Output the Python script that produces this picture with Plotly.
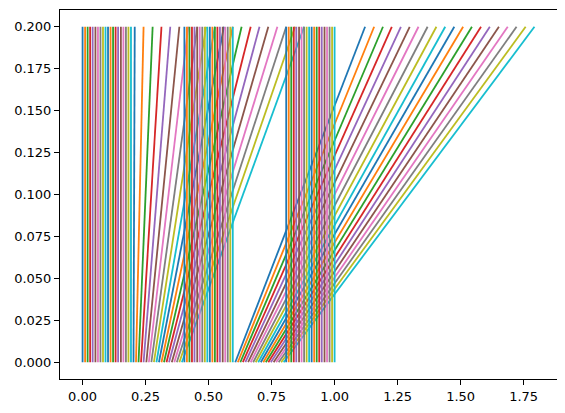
import plotly.graph_objects as go

# x position of each line at t = 0 (bottom) and at t = 0.2 (top)
x_start = [
    0.000, 0.010, 0.020, 0.030, 0.040, 0.051, 0.061, 0.071, 0.081, 0.091,
    0.101, 0.111, 0.121, 0.131, 0.141, 0.152, 0.162, 0.172, 0.182, 0.192,
    0.202, 0.212, 0.222, 0.232, 0.242, 0.253, 0.263, 0.273, 0.283, 0.293,
    0.303, 0.313, 0.323, 0.333, 0.343, 0.354, 0.364, 0.374, 0.384, 0.394,
    0.404, 0.414, 0.424, 0.434, 0.444, 0.455, 0.465, 0.475, 0.485, 0.495,
    0.505, 0.515, 0.525, 0.535, 0.545, 0.556, 0.566, 0.576, 0.586, 0.596,
    0.606, 0.616, 0.626, 0.636, 0.646, 0.657, 0.667, 0.677, 0.687, 0.697,
    0.707, 0.717, 0.727, 0.737, 0.747, 0.758, 0.768, 0.778, 0.788, 0.798,
    0.808, 0.818, 0.828, 0.838, 0.848, 0.859, 0.869, 0.879, 0.889, 0.899,
    0.909, 0.919, 0.929, 0.939, 0.949, 0.960, 0.970, 0.980, 0.990, 1.000,
]
x_end = [
    0.000, 0.010, 0.020, 0.030, 0.040, 0.051, 0.061, 0.071, 0.081, 0.091,
    0.101, 0.111, 0.121, 0.131, 0.141, 0.152, 0.162, 0.172, 0.182, 0.192,
    0.207, 0.242, 0.278, 0.313, 0.348, 0.384, 0.419, 0.455, 0.490, 0.525,
    0.561, 0.596, 0.631, 0.667, 0.702, 0.737, 0.773, 0.808, 0.843, 0.879,
    0.404, 0.414, 0.424, 0.434, 0.444, 0.455, 0.465, 0.475, 0.485, 0.495,
    0.505, 0.515, 0.525, 0.535, 0.545, 0.556, 0.566, 0.576, 0.586, 0.596,
    1.121, 1.157, 1.192, 1.227, 1.263, 1.298, 1.333, 1.369, 1.404, 1.439,
    1.475, 1.510, 1.545, 1.581, 1.616, 1.652, 1.687, 1.722, 1.758, 1.793,
    0.808, 0.818, 0.828, 0.838, 0.848, 0.859, 0.869, 0.879, 0.889, 0.899,
    0.909, 0.919, 0.929, 0.939, 0.949, 0.960, 0.970, 0.980, 0.990, 1.000,
]
t_span = [0.0, 0.2]

x_ticks = [0.0, 0.25, 0.5, 0.75, 1.0, 1.25, 1.5, 1.75]
y_ticks = [0.0, 0.025, 0.05, 0.075, 0.1, 0.125, 0.15, 0.175, 0.2]

tab10 = ['#1f77b4', '#ff7f0e', '#2ca02c', '#d62728', '#9467bd',
         '#8c564b', '#e377c2', '#7f7f7f', '#bcbd22', '#17becf']

fig = go.Figure()
for i in range(len(x_start)):
    fig.add_trace(go.Scatter(x=[x_start[i], x_end[i]], y=t_span,
        mode='lines', line=dict(color=tab10[i % 10], width=1.8),
        showlegend=False, hoverinfo='skip'))

axis_style = dict(showline=True, mirror=True, linecolor='black', linewidth=1,
                  ticks='outside', ticklen=5, tickwidth=1, tickcolor='black',
                  showgrid=False, zeroline=False)

# page body adds an 8px offset, so the figure is shrunk to fit the window
fig.update_layout(
    width=557, height=405,
    margin=dict(l=52, r=8, t=2, b=34),
    plot_bgcolor='white', paper_bgcolor='white',
    font=dict(family='DejaVu Sans', size=13, color='black'),
    xaxis=dict(range=[-0.0896, 1.8825], tickvals=x_ticks, tickformat='.2f', **axis_style),
    yaxis=dict(range=[-0.01, 0.21], tickvals=y_ticks, tickformat='.3f', **axis_style),
)

fig.write_html("out.html")
